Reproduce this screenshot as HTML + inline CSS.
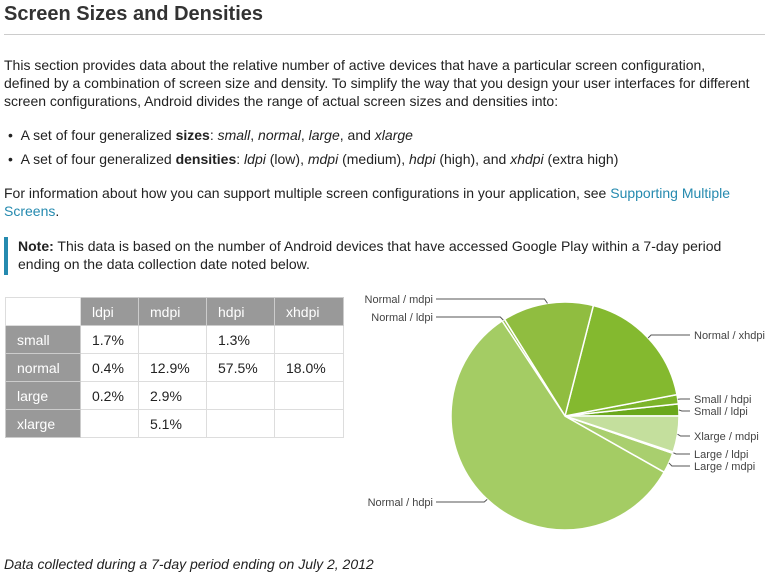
<!DOCTYPE html>
<html><head><meta charset="utf-8"><style>
body{margin:0;width:769px;height:577px;background:#fff;font-family:"Liberation Sans",sans-serif;color:#222;position:relative;overflow:hidden}
.a{position:absolute;white-space:nowrap}
p,div{margin:0}
.t{font-size:14px;line-height:18px}
a{color:#258aaf;text-decoration:none}
table{position:absolute;left:5px;top:297px;border-collapse:collapse;font-size:14px}
td{border:1px solid #ddd;height:28px;padding:0 0 0 11px;box-sizing:border-box;color:#222}
td.h{background:#999;color:#fff;border-color:#ccc}
</style></head><body>
<div class="a" style="left:4px;top:3px;font-size:20px;font-weight:bold;color:#333">Screen Sizes and Densities</div>
<div class="a" style="left:4px;top:34px;width:761px;height:1px;background:#ccc"></div>
<div class="a t" style="left:4px;top:56px">This section provides data about the relative number of active devices that have a particular screen configuration,<br>defined by a combination of screen size and density. To simplify the way that you design your user interfaces for different<br>screen configurations, Android divides the range of actual screen sizes and densities into:</div>
<div class="a t" style="left:8px;top:126px">•&nbsp;&nbsp;A set of four generalized <b>sizes</b>: <i>small</i>, <i>normal</i>, <i>large</i>, and <i>xlarge</i></div>
<div class="a t" style="left:8px;top:150px">•&nbsp;&nbsp;A set of four generalized <b>densities</b>: <i>ldpi</i> (low), <i>mdpi</i> (medium), <i>hdpi</i> (high), and <i>xhdpi</i> (extra high)</div>
<div class="a t" style="left:4px;top:184px">For information about how you can support multiple screen configurations in your application, see <a>Supporting Multiple</a><br><a>Screens</a>.</div>
<div class="a" style="left:4px;top:237px;width:4px;height:38px;background:#258aaf"></div>
<div class="a t" style="left:18px;top:237px"><b>Note:</b> This data is based on the number of Android devices that have accessed Google Play within a 7-day period<br>ending on the data collection date noted below.</div>
<table>
<tr><td style="width:75px;border-color:#ddd"></td><td class="h" style="width:58px">ldpi</td><td class="h" style="width:68px">mdpi</td><td class="h" style="width:68px">hdpi</td><td class="h" style="width:69px">xhdpi</td></tr>
<tr><td class="h">small</td><td>1.7%</td><td></td><td>1.3%</td><td></td></tr>
<tr><td class="h">normal</td><td>0.4%</td><td>12.9%</td><td>57.5%</td><td>18.0%</td></tr>
<tr><td class="h">large</td><td>0.2%</td><td>2.9%</td><td></td><td></td></tr>
<tr><td class="h">xlarge</td><td></td><td>5.1%</td><td></td><td></td></tr>
</table>
<div class="a t" style="left:4px;top:555px;font-style:italic">Data collected during a 7-day period ending on July 2, 2012</div>
<svg class="a" style="left:0;top:0" width="769" height="577" id="pie"></svg>
<script>
const categories=["Small / ldpi","Small / hdpi","Normal / xhdpi","Normal / mdpi","Normal / ldpi","Normal / hdpi","Large / mdpi","Large / ldpi","Xlarge / mdpi"];
const values=[1.7,1.3,18.0,12.9,0.4,57.5,2.9,0.2,5.1];
const colors=["#6aa81c","#7cb42a","#84b92f","#90bd40","#98c24c","#a4cc64","#a9cf6e","#b5d682","#c4df9d"];
const labelPos=[[694,411,"s"],[694,399,"s"],[694,335,"s"],[433,299,"e"],[433,317,"e"],[433,502,"e"],[694,466,"s"],[694,454,"s"],[694,436,"s"]];
const svg=document.getElementById('pie');const NS="http://www.w3.org/2000/svg";
const cx=565,cy=416,r=114;const total=values.reduce((a,b)=>a+b,0);
function pt(a,rr){return [cx+rr*Math.cos(a),cy-rr*Math.sin(a)];}
let a0=0;
values.forEach((v,i)=>{
 const a1=a0+v/total*2*Math.PI;
 const p0=pt(a0,r),p1=pt(a1,r);
 const large=(a1-a0)>Math.PI?1:0;
 const path=document.createElementNS(NS,'path');
 path.setAttribute('d',`M${cx},${cy}L${p0[0]},${p0[1]}A${r},${r} 0 ${large} 0 ${p1[0]},${p1[1]}Z`);
 path.setAttribute('fill',colors[i]);path.setAttribute('stroke','#fff');path.setAttribute('stroke-width','1.5');
 
 
 svg.appendChild(path);
 const am=(a0+a1)/2;const e=pt(am,r);const lp=labelPos[i];
 const lx=lp[2]==="s"?lp[0]-4:lp[0]+3;
 const kx=lp[2]==="s"?Math.max(e[0]+3,lx-40):Math.min(e[0]-3,lx+110);
 const pl=document.createElementNS(NS,'polyline');
 pl.setAttribute('points',`${e[0]},${e[1]} ${kx},${lp[1]} ${lx},${lp[1]}`);
 pl.setAttribute('fill','none');pl.setAttribute('stroke','#555');pl.setAttribute('stroke-width','1');
 
 
 svg.appendChild(pl);
 const t=document.createElementNS(NS,'text');
 t.setAttribute('x',lp[0]);t.setAttribute('y',lp[1]+4);t.setAttribute('font-size','11');t.setAttribute('fill','#444');
 t.setAttribute('font-family','Liberation Sans, sans-serif');
 t.setAttribute('text-anchor',lp[2]==="s"?"start":"end");
 t.textContent=categories[i];
 
 
 svg.appendChild(t);
 a0=a1;
});
</script>
</body></html>
